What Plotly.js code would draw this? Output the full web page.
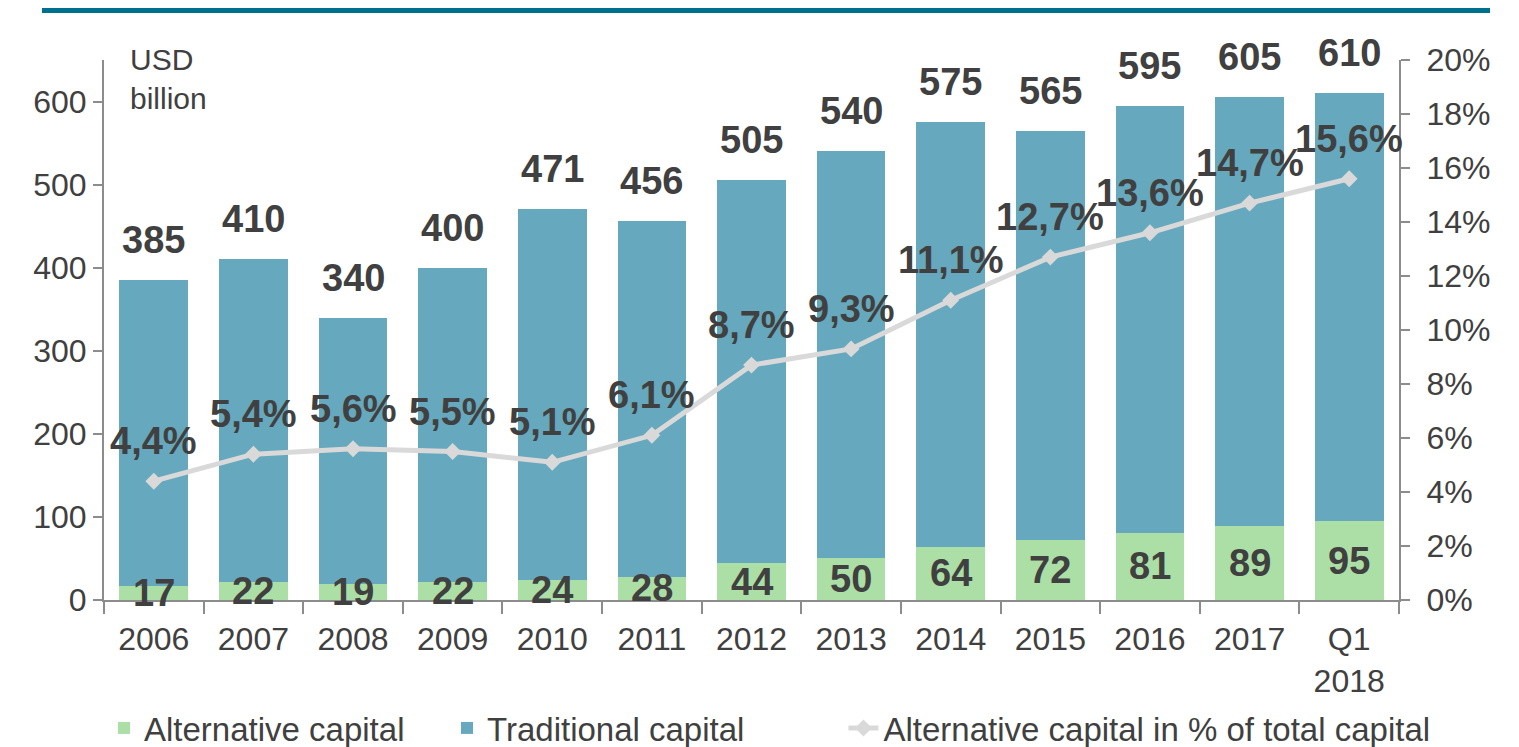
<!DOCTYPE html>
<html>
<head>
<meta charset="utf-8">
<script src="https://cdn.plot.ly/plotly-3.0.1.min.js"></script>
<style>html,body{margin:0;padding:0;background:#fff;}#chart{width:1519px;height:747px;}</style>
</head>
<body>
<div id="chart"></div>
<script>
const categories = ['2006','2007','2008','2009','2010','2011','2012','2013','2014','2015','2016','2017','Q1<br>2018'];
const totalCapital = [385,410,340,400,471,456,505,540,575,565,595,605,610];
const alternativeCapital = [17,22,19,22,24,28,44,50,64,72,81,89,95];
const altSharePct = [4.4,5.4,5.6,5.5,5.1,6.1,8.7,9.3,11.1,12.7,13.6,14.7,15.6];
const altShareLabels = ['4,4%','5,4%','5,6%','5,5%','5,1%','6,1%','8,7%','9,3%','11,1%','12,7%','13,6%','14,7%','15,6%'];

const traditionalCapital = totalCapital.map((t,i)=>t-alternativeCapital[i]);
const FONT = '"Liberation Sans", Arial, sans-serif';
const TXT = '#404040';
const AX = '#8c8c8c';
const BOLD = {family:FONT, size:38, color:TXT, weight:'bold'};

const traces = [
  {type:'bar', name:'Alternative capital', x:categories, y:alternativeCapital,
   marker:{color:'#acdfa6'}, width:0.69, hoverinfo:'skip', legend:'legend'},
  {type:'bar', name:'Traditional capital', x:categories, y:traditionalCapital,
   marker:{color:'#66a8bd'}, width:0.69, hoverinfo:'skip', legend:'legend'},
  {type:'scatter', mode:'lines+markers', name:'Alternative capital in % of total capital',
   x:categories, y:altSharePct.map(v=>v/100), yaxis:'y2',
   line:{color:'#d9d9d9', width:5}, marker:{symbol:'diamond', size:13, color:'#d9d9d9'},
   hoverinfo:'skip', legend:'legend2'}
];

const annotations = [];
categories.forEach((c,i)=>{
  annotations.push({x:i, y:totalCapital[i], xref:'x', yref:'y', text:String(totalCapital[i]),
    showarrow:false, yanchor:'middle', yshift:40, font:BOLD});
  annotations.push({x:i, y:alternativeCapital[i]/2, xref:'x', yref:'y', text:String(alternativeCapital[i]),
    showarrow:false, yanchor:'middle', font:BOLD});
  annotations.push({x:i, y:altSharePct[i]/100, xref:'x', yref:'y2', text:altShareLabels[i],
    showarrow:false, yanchor:'middle', yshift:40, font:BOLD});
});
annotations.push({xref:'paper', yref:'paper', x:0.0185, y:1.035, xanchor:'left', yanchor:'top',
  text:'USD<br>billion', align:'left', showarrow:false, font:{family:FONT, size:30, color:TXT}});

const layout = {
  width:1519, height:747,
  margin:{l:104, r:120, t:60, b:147, autoexpand:false},
  paper_bgcolor:'#fff', plot_bgcolor:'#fff',
  barmode:'stack',
  font:{family:FONT, size:32, color:TXT},
  showlegend:true,
  xaxis:{type:'category', range:[-0.5, categories.length-0.5], autorange:false,
    tickson:'boundaries', ticks:'outside', ticklen:12, tickwidth:2, tickcolor:AX, tickangle:0,
    ticklabelstandoff:10, automargin:false,
    showline:true, linecolor:AX, linewidth:2, showgrid:false, zeroline:false,
    tickfont:{family:FONT, size:32, color:TXT}},
  yaxis:{range:[0,650], autorange:false, tickvals:[0,100,200,300,400,500,600], ticks:'outside', ticklen:9, tickwidth:2, tickcolor:AX,
    automargin:false,
    showline:true, linecolor:AX, linewidth:2, showgrid:false, zeroline:false,
    tickfont:{family:FONT, size:32, color:TXT}},
  yaxis2:{overlaying:'y', side:'right', range:[0,0.2], autorange:false, tickvals:[0,0.02,0.04,0.06,0.08,0.1,0.12,0.14,0.16,0.18,0.2],
    tickformat:'.0%', ticks:'outside', ticklen:9, tickwidth:2, tickcolor:AX, ticklabelstandoff:10, automargin:false,
    showline:true, linecolor:AX, linewidth:2, showgrid:false, zeroline:false,
    tickfont:{family:FONT, size:32, color:TXT}},
  legend:{orientation:'h', x:0.0, xanchor:'left', y:-0.237, yanchor:'middle', traceorder:'normal',
    font:{family:FONT, size:33, color:TXT}, bgcolor:'rgba(0,0,0,0)', entrywidth:298, entrywidthmode:'pixels'},
  legend2:{orientation:'h', x:0.571, xanchor:'left', y:-0.237, yanchor:'middle',
    font:{family:FONT, size:33, color:TXT}, bgcolor:'rgba(0,0,0,0)'},
  shapes:[
    {type:'rect', xref:'paper', yref:'paper', x0:-0.0479, x1:1.0703, y0:1.087, y1:1.0963,
     fillcolor:'#00708f', line:{width:0}}
  ],
  annotations:annotations
};

Plotly.newPlot('chart', traces, layout, {displayModeBar:false, staticPlot:true});
</script>
</body>
</html>
